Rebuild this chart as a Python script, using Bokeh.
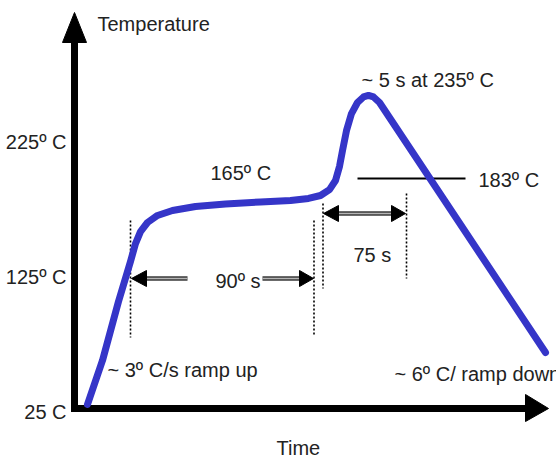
from bokeh.plotting import figure
from bokeh.models import Range1d, Label
from bokeh.embed import file_html
from bokeh.resources import INLINE

# ---- data (schematic reflow profile: time in s, temperature in deg C) ----
time_s = [6.5, 14, 22, 28, 30.5, 33, 36.5, 41.5, 49, 60.5, 75.5, 93, 108, 117,
          123, 127.5, 130.5, 132.5, 134, 136, 138.5, 141.5, 144.5, 147, 149.5,
          152.5, 235.5]
temp_c = [30.2, 62.8, 106.5, 136.1, 149.4, 158.3, 165.0, 170.2, 173.9, 176.9,
          178.7, 180.2, 181.3, 182.8, 185.0, 189.4, 196.1, 206.5, 218.3, 233.1,
          245.7, 253.9, 258.0, 259.1, 258.0, 253.9, 68.7]

tick_temps = [25, 125, 225]
tick_labels = ["25 C", "125º C", "225º C"]

W, H = 556, 457

# ---- layout helpers (picture pixel -> data units) ----
def tx(px):
    return (px - 74) * 0.5

def ty(py):
    return 25 + (411 - py) / 1.35

FONT = "Liberation Sans"
FS = "20px"
TC = "#222222"

p = figure(width=W, height=H, output_backend="svg", toolbar_location=None,
           x_range=Range1d(tx(0), tx(W)), y_range=Range1d(ty(H), ty(0)),
           x_axis_type=None, y_axis_type=None, min_border=0,
           min_border_left=0, min_border_right=0, min_border_top=0, min_border_bottom=0)
p.grid.visible = False
p.outline_line_color = None
p.background_fill_color = "white"
p.border_fill_color = "white"

# axes
p.segment(x0=[tx(74), tx(70.5)], y0=[ty(411.5), ty(408)],
          x1=[tx(74), tx(525)], y1=[ty(42), ty(408)],
          line_width=7, line_color="black", line_cap="butt")
p.patches(xs=[[tx(74), tx(62), tx(86)], [tx(548), tx(525), tx(525)]],
          ys=[[ty(12), ty(42), ty(42)], [ty(408), ty(394), ty(421)]],
          fill_color="black", line_color="black", line_width=1)

# dotted guides
p.segment(x0=[tx(130), tx(313.5), tx(322.5), tx(406)],
          y0=[ty(220), ty(220), ty(203), ty(193)],
          x1=[tx(130), tx(313.5), tx(322.5), tx(406)],
          y1=[ty(337), ty(336), ty(288), ty(278)],
          line_width=1.6, line_color="black", line_dash="2 2")

# 183 line
p.segment(x0=[tx(357)], y0=[ty(178)], x1=[tx(465)], y1=[ty(178)],
          line_width=2, line_color="black")

# interval arrows
shaft_x0 = [tx(146), tx(262), tx(338)]
shaft_x1 = [tx(187), tx(299), tx(391)]
shaft_y = [ty(278), ty(278), ty(213)]
p.segment(x0=shaft_x0, y0=shaft_y, x1=shaft_x1, y1=shaft_y,
          line_width=4.5, line_color="#3a3a3a")
p.segment(x0=shaft_x0, y0=shaft_y, x1=shaft_x1, y1=shaft_y,
          line_width=1.5, line_color="#b5b5b5")
heads = [(131, 146, 278), (313, 299, 278), (323, 338, 213), (405, 391, 213)]
p.patches(xs=[[tx(t), tx(b), tx(b)] for t, b, y in heads],
          ys=[[ty(y), ty(y - 8), ty(y + 8)] for t, b, y in heads],
          fill_color="black", line_color="black", line_width=1)

# profile curve
p.line(time_s, temp_c, line_width=7, line_color="#3535c8",
       line_join="round", line_cap="round")

# tick labels
for t, lab in zip(tick_temps, tick_labels):
    p.add_layout(Label(x=tx(66), y=t, text=lab, text_font=FONT, text_font_size=FS,
                       text_color=TC, text_align="right", text_baseline="middle"))

def add_label(text, px, py):
    p.add_layout(Label(x=tx(px), y=ty(py), text=text, text_font=FONT,
                       text_font_size=FS, text_color=TC, text_align="left",
                       text_baseline="middle"))

add_label("Temperature", 97, 23)
add_label("~ 5 s at 235º C", 361, 79)
add_label("165º C", 210, 172.5)
add_label("183º C", 478, 179)
add_label("90º s", 215, 280)
add_label("75 s", 353, 254)
add_label("~ 3º C/s ramp up", 107, 369.5)
add_label("~ 6º C/ ramp down", 394, 373)
add_label("Time", 276, 447)

open("out.html", "w").write(file_html(p, INLINE))
